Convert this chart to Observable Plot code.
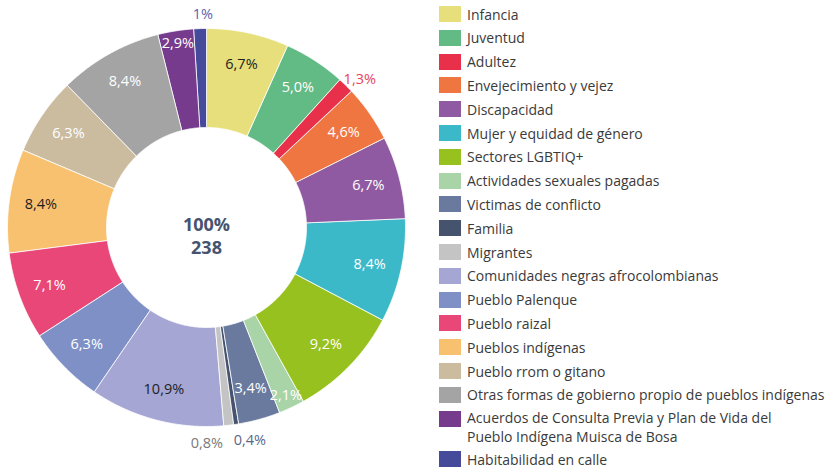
<!DOCTYPE html>
<html><head><meta charset="utf-8">
<script src="https://cdn.jsdelivr.net/npm/d3@7"></script>
<script src="https://cdn.jsdelivr.net/npm/@observablehq/plot@0.6"></script>
<style>
body{margin:0;background:#fff;font-family:"Open Sans",sans-serif}
#wrap{position:relative;width:828px;height:468px;overflow:hidden}
#chart{position:absolute;left:0;top:0}
#legend{position:absolute;left:439px;top:0;width:389px;height:468px}
.sw{position:absolute;left:0;width:22px;height:16px}
.lab{position:absolute;left:28px;font-size:14px;line-height:17px;color:#3a3a3a;white-space:nowrap}
</style></head>
<body>
<div id="wrap"><div id="chart"></div><div id="legend"></div></div>
<script>
const categories = [
  "Infancia","Juventud","Adultez","Envejecimiento y vejez","Discapacidad",
  "Mujer y equidad de género","Sectores LGBTIQ+","Actividades sexuales pagadas",
  "Víctimas de conflicto","Familia","Migrantes","Comunidades negras afrocolombianas",
  "Pueblo Palenque","Pueblo raizal","Pueblos indígenas","Pueblo rrom o gitano",
  "Otras formas de gobierno propio de pueblos indígenas",
  "Acuerdos de Consulta Previa y Plan de Vida del Pueblo Indígena Muisca de Bosa",
  "Habitabilidad en calle"
];
const legendLines = [
  ["Infancia"],["Juventud"],["Adultez"],["Envejecimiento y vejez"],["Discapacidad"],
  ["Mujer y equidad de género"],["Sectores LGBTIQ+"],["Actividades sexuales pagadas"],
  ["Victimas de conflicto"],["Familia"],["Migrantes"],["Comunidades negras afrocolombianas"],
  ["Pueblo Palenque"],["Pueblo raizal"],["Pueblos indígenas"],["Pueblo rrom o gitano"],
  ["Otras formas de gobierno propio de pueblos indígenas"],
  ["Acuerdos de Consulta Previa y Plan de Vida del","Pueblo Indígena Muisca de Bosa"],
  ["Habitabilidad en calle"]
];
const values = [6.7,5.0,1.3,4.6,6.7,8.4,9.2,2.1,3.4,0.4,0.8,10.9,6.3,7.1,8.4,6.3,8.4,2.9,1.0];
const pctLabels = ["6,7%","5,0%","1,3%","4,6%","6,7%","8,4%","9,2%","2,1%","3,4%","0,4%","0,8%","10,9%","6,3%","7,1%","8,4%","6,3%","8,4%","2,9%","1%"];
const totalPct = "100%";
const totalCount = "238";

const colors = ["#e6df7c","#62ba85","#e8304a","#ef7641","#8f5aa2","#3bb9c8","#97c11f","#a8d4a7",
  "#6a7a9e","#46536f","#c4c4c4","#a5a6d4","#7f90c7","#e94778","#f7c170","#cbbca0","#a4a4a4","#773b8e","#464a9b"];
const darkText = new Set(["Infancia","Comunidades negras afrocolombianas","Pueblos indígenas"]);
const outsideText = {"Adultez":"#e8455a","Familia":"#5a6789","Migrantes":"#7a7a7a","Habitabilidad en calle":"#5b5fae"};
const outsideShift = {"Familia":[12,2],"Migrantes":[-23,4],"Adultez":[4,4],"Habitabilidad en calle":[3,0]};

const cx = 206, cy = 227, R = 199, inner = 100 / 199;
const pie = d3.pie().sort(null).value(d => d.v).startAngle(0).endAngle(2 * Math.PI);
const arcs = pie(categories.map((c, i) => ({c, v: values[i], i})));

const pts = [];
const labels = [];
for (const a of arcs) {
  const n = Math.max(2, Math.ceil((a.endAngle - a.startAngle) / 0.008));
  for (let k = 0; k <= n; k++) {
    const t = a.startAngle + (a.endAngle - a.startAngle) * k / n;
    pts.push({cat: a.data.c, x: Math.sin(t), y: -Math.cos(t)});
  }
  for (let k = n; k >= 0; k--) {
    const t = a.startAngle + (a.endAngle - a.startAngle) * k / n;
    pts.push({cat: a.data.c, x: inner * Math.sin(t), y: -inner * Math.cos(t)});
  }
  const m = (a.startAngle + a.endAngle) / 2;
  const c = a.data.c;
  let rl, col, sh = [0, 0];
  if (outsideText[c]) { rl = 1.07; col = outsideText[c]; sh = outsideShift[c]; }
  else if (a.data.v < 3) { rl = 0.935; col = "#ffffff"; }
  else { rl = 0.84; col = darkText.has(c) ? "#1e1e1e" : "#ffffff"; }
  labels.push({x: rl * Math.sin(m), y: -rl * Math.cos(m), text: pctLabels[a.data.i], col, dx: sh[0], dy: sh[1]});
}

const labelMarks = labels.map(d => Plot.text([d], {x: "x", y: "y", text: "text", fill: d.col,
  fontSize: 14.5, fontFamily: "Open Sans", dx: d.dx, dy: d.dy}));

const chart = Plot.plot({
  width: 430, height: 468, margin: 0,
  style: {fontFamily: "Open Sans", background: "transparent"},
  x: {domain: [-1, 1], range: [cx - R, cx + R], axis: null},
  y: {domain: [-1, 1], range: [cy - R, cy + R], axis: null},
  color: {domain: categories, range: colors},
  marks: [
    Plot.line(pts, {x: "x", y: "y", z: "cat", fill: "cat", stroke: "#ffffff", strokeWidth: 0.8,
      curve: "linear-closed"}),
    ...labelMarks,
    Plot.text([totalPct], {x: () => 0, y: () => 0, text: d => d, dy: -2, fontSize: 18,
      fontWeight: "bold", fill: "#46536f", fontFamily: "Open Sans"}),
    Plot.text([totalCount], {x: () => 0, y: () => 0, text: d => d, dy: 21, fontSize: 18,
      fontWeight: "bold", fill: "#46536f", fontFamily: "Open Sans"})
  ]
});
document.getElementById("chart").appendChild(chart);

const leg = document.getElementById("legend");
let extra = 0;
categories.forEach((c, i) => {
  const center = 14 + i * 23.8 + extra;
  const sw = document.createElement("div");
  sw.className = "sw";
  sw.style.background = colors[i];
  sw.style.top = (center - 8) + "px";
  leg.appendChild(sw);
  const nl = legendLines[i].length;
  legendLines[i].forEach((line, j) => {
    const lab = document.createElement("div");
    lab.className = "lab";
    lab.textContent = line;
    const off = nl > 1 ? (j === 0 ? -1 : 18) : 0;
    lab.style.top = (center - 8.5 + off) + "px";
    leg.appendChild(lab);
  });
  extra += (nl - 1) * 16.6;
});
</script>
</body></html>
